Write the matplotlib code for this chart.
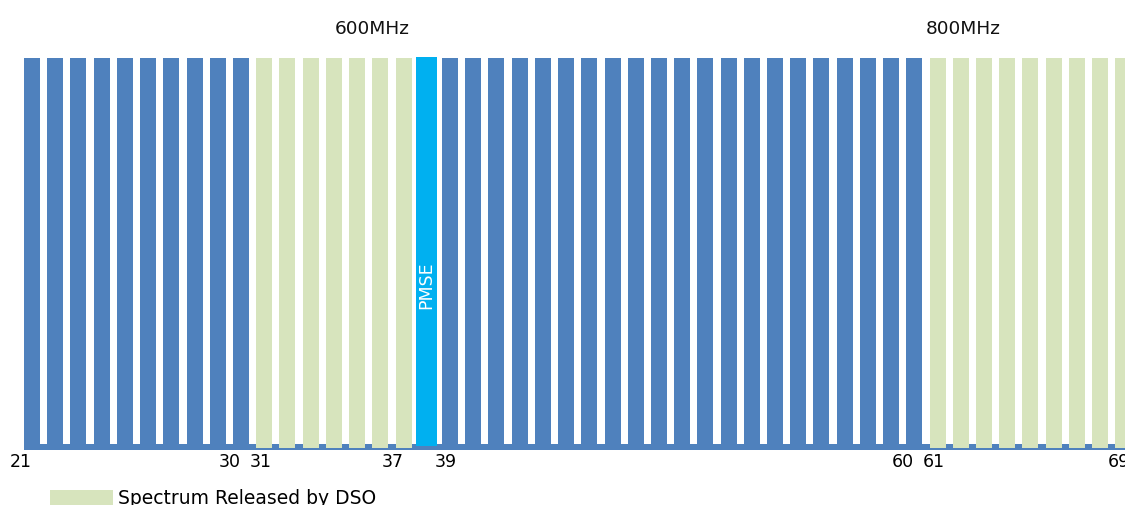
import matplotlib
matplotlib.use("Agg")
import matplotlib.pyplot as plt
import matplotlib.transforms as mtransforms
from matplotlib.patches import Patch

plt.rcParams["font.family"] = ["DejaVu Sans"]

# UHF channel plan: one bar per channel slot, coloured by its use
status = (["dtt"] * 10 + ["released"] * 7 + ["pmse"]
          + ["dtt"] * 21 + ["released"] * 9)
occupancy = [1.0] * len(status)

tick_positions = [0, 9, 10, 16, 18, 38, 39, 47]
tick_labels = ["21", "30", "31", "37", "39", "60", "61", "69"]

band_labels = ["600MHz", "800MHz"]
band_label_x = [14.66, 40.1]

legend_label = "Spectrum Released by DSO"
pmse_label = "PMSE"

BLUE = "#4F81BD"
GREEN = "#D7E4BD"
CYAN = "#00B0F0"

W, H = 1125, 505
fig = plt.figure(figsize=(W / 100, H / 100), dpi=100)
ax = fig.add_axes([0, (H - 450) / H, 1, 450 / H])

px = 23.22          # slot pitch in pixels
x0 = 32             # centre of first slot
ax.set_xlim((0 - x0) / px, (W - x0) / px)
ax.set_ylim(-6 / 386, 444 / 386)

bar_w = 16 / px
base_depth = 6 / 386

# baseline strip underneath every channel
ax.barh(-base_depth / 2, len(status) + 2, left=-bar_w / 2, height=base_depth,
        color=BLUE, zorder=1)

idx = list(range(len(status)))
dtt = [i for i in idx if status[i] == "dtt"]
rel = [i for i in idx if status[i] == "released"]
pms = [i for i in idx if status[i] == "pmse"]

ax.bar(dtt, [occupancy[i] for i in dtt], width=bar_w, color=BLUE,
       linewidth=0, zorder=2)
green_drop = 4 / 386
ax.bar(rel, [occupancy[i] + green_drop for i in rel], bottom=-green_drop,
       width=bar_w, color=GREEN, linewidth=0, zorder=2)
pmse_drop = 2 / 386
pmse_rise = 1.3 / 386
ax.bar(pms, [occupancy[i] + pmse_drop + pmse_rise for i in pms],
       bottom=-pmse_drop, width=21 / px, color=CYAN, linewidth=0, zorder=3)
for i in pms:
    ax.text(i, 0.412, pmse_label, rotation=90, color="white",
            ha="center", va="center", fontsize=12.5, zorder=4)

for xpos, lab in zip(band_label_x, band_labels):
    ax.text(xpos, (444 - 34) / 386, lab, ha="center", va="baseline",
            fontsize=13.3, color="#111111")

ax.set_xticks(tick_positions)
ax.set_xticklabels(tick_labels, fontsize=12.5)
ax.tick_params(axis="x", length=0, pad=2)
# labels closing a block sit flush right, labels opening one sit centred
closing = {"21", "30", "37", "60"}
shift = mtransforms.ScaledTranslation(-4 / 100, 0, fig.dpi_scale_trans)
for t in ax.get_xticklabels():
    if t.get_text() in closing:
        t.set_ha("right")
    else:
        t.set_ha("center")
        t.set_transform(t.get_transform() + shift)
ax.set_yticks([])
for s in ax.spines.values():
    s.set_visible(False)

fig.legend(handles=[Patch(facecolor=GREEN, edgecolor="none")],
           labels=[legend_label], loc="center left",
           bbox_to_anchor=(50 / W, (H - 499) / H), frameon=False,
           fontsize=13.5, handlelength=3.36, handleheight=0.9,
           handletextpad=0.27, borderpad=0, borderaxespad=0)

fig.savefig("out.png", dpi=100)
